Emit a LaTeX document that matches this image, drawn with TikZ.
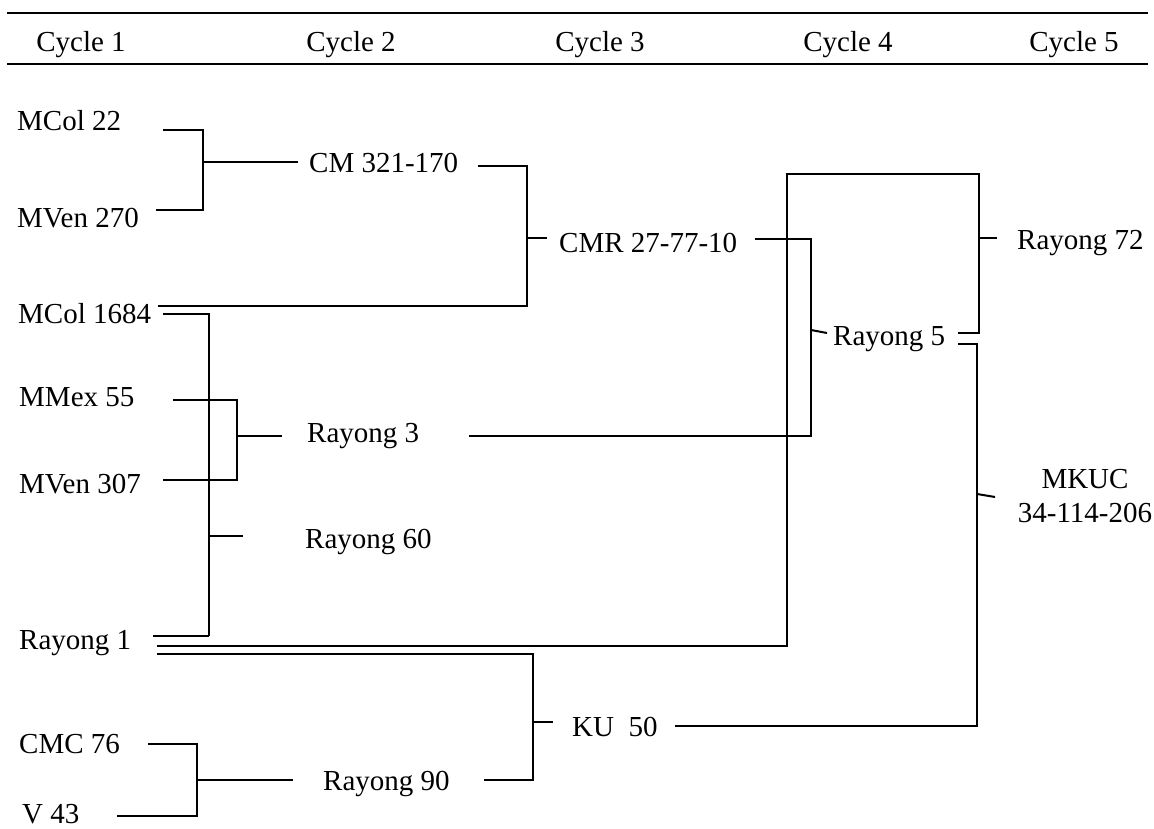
\documentclass[tikz,border=0pt]{standalone}
\usepackage{fontspec}
\setmainfont{Liberation Serif}
\begin{document}
\begin{tikzpicture}[x=1pt,y=-1pt,
  lbl/.style={anchor=base west, inner sep=0pt, font=\fontsize{29}{34}\selectfont},
  hdr/.style={anchor=base, inner sep=0pt, font=\fontsize{29}{34}\selectfont},
  thn/.style={line width=2pt},
  thk/.style={line width=2.8pt},
  rule/.style={line width=2.8pt}]
\useasboundingbox (0,0) rectangle (1154,829);
% header
\coordinate (t1) at (7,13); \coordinate (t2) at (1148,13);
\coordinate (b1) at (7,64); \coordinate (b2) at (1148,64);
\draw[rule] (t1) -- (t2);
\draw[rule] (b1) -- (b2);
\node[hdr] (c1) at (81,52) {Cycle 1};
\node[hdr] (c2) at (351,52) {Cycle 2};
\node[hdr] (c3) at (600,52) {Cycle 3};
\node[hdr] (c4) at (848,52) {Cycle 4};
\node[hdr] (c5) at (1074,52) {Cycle 5};
% labels
\node[lbl] (mcol22) at (17,131) {MCol 22};
\node[lbl] (mven270) at (17,228) {MVen 270};
\node[lbl] (mcol1684) at (18,323) {MCol 1684};
\node[lbl] (mmex55) at (19,406) {MMex 55};
\node[lbl] (mven307) at (19,493) {MVen 307};
\node[lbl] (rayong1) at (19,649) {Rayong 1};
\node[lbl] (cmc76) at (19,753) {CMC 76};
\node[lbl] (v43) at (22,823) {V 43};
\node[lbl] (cm321) at (309,173) {CM 321-170};
\node[lbl] (cmr) at (559,252) {CMR 27-77-10};
\node[lbl] (rayong3) at (307,442) {Rayong 3};
\node[lbl] (rayong60) at (305,548) {Rayong 60};
\node[lbl] (rayong90) at (323,790) {Rayong 90};
\node[lbl] (ku50) at (572,736) {KU\ \ 50};
\node[lbl] (rayong5) at (833,345) {Rayong 5};
\node[lbl] (rayong72) at (1017,250) {Rayong 72};
\node[anchor=base, inner sep=0pt, align=center, font=\fontsize{29}{34}\selectfont] (mkuc) at (1085,522) {MKUC\\34-114-206};
% junction coordinates
\coordinate (a1) at (163,130); \coordinate (a2) at (203,130);
\coordinate (a3) at (203,210); \coordinate (a4) at (156,210);
\coordinate (a5) at (203,162); \coordinate (a6) at (298,162);
\coordinate (b1a) at (478,166); \coordinate (b2a) at (527,166);
\coordinate (b3a) at (527,306); \coordinate (b4a) at (158,306);
\coordinate (b5a) at (527,238); \coordinate (b6a) at (547,238);
\coordinate (d1) at (755,239); \coordinate (d2) at (811,239);
\coordinate (d3) at (811,436); \coordinate (d4) at (469,436);
\coordinate (d5) at (811,330); \coordinate (d6) at (827,333);
\coordinate (e1) at (163,314); \coordinate (e2) at (209,314);
\coordinate (e3) at (209,636); \coordinate (e4) at (153,636);
\coordinate (e5) at (209,536); \coordinate (e6) at (243,536);
\coordinate (f1) at (173,400); \coordinate (f2) at (237,400);
\coordinate (f3) at (237,480); \coordinate (f4) at (163,480);
\coordinate (f5) at (237,436); \coordinate (f6) at (282,436);
\coordinate (g1) at (157,646); \coordinate (g2) at (787,646);
\coordinate (g3) at (787,174); \coordinate (g4) at (979,174);
\coordinate (g5) at (979,333); \coordinate (g6) at (958,333);
\coordinate (g7) at (979,238); \coordinate (g8) at (997,238);
\coordinate (h1) at (958,344); \coordinate (h2) at (977,344);
\coordinate (h3) at (977,726); \coordinate (h4) at (675,726);
\coordinate (h5) at (977,494); \coordinate (h6) at (995,497);
\coordinate (k1) at (157,654); \coordinate (k2) at (533,654);
\coordinate (k3) at (533,780); \coordinate (k4) at (484,780);
\coordinate (k5) at (533,722); \coordinate (k6) at (553,722);
\coordinate (m1) at (148,744); \coordinate (m2) at (197,744);
\coordinate (m3) at (197,816); \coordinate (m4) at (117,816);
\coordinate (m5) at (197,780); \coordinate (m6) at (293,780);
% connectors
\draw[thn] (a1) -- (a2) -- (a3) -- (a4);
\draw[thn] (a5) -- (a6);
\draw[thk] (b1a) -- (b2a) -- (b3a) -- (b4a);
\draw[thk] (b5a) -- (b6a);
\draw[thn] (d1) -- (d2) -- (d3) -- (d4);
\draw[thn] (d5) -- (d6);
\draw[thn] (e1) -- (e2) -- (e3);
\draw[thk] (e3) -- (e4);
\draw[thk] (e5) -- (e6);
\draw[thn] (f1) -- (f2) -- (f3) -- (f4);
\draw[thn] (f5) -- (f6);
\draw[thn] (g1) -- (g2) -- (g3) -- (g4) -- (g5) -- (g6);
\draw[thk] (g7) -- (g8);
\draw[thn] (h1) -- (h2) -- (h3) -- (h4);
\draw[thn] (h5) -- (h6);
\draw[thn] (k1) -- (k2) -- (k3) -- (k4);
\draw[thk] (k5) -- (k6);
\draw[thn] (m1) -- (m2) -- (m3) -- (m4);
\draw[thn] (m5) -- (m6);
\end{tikzpicture}
\end{document}
